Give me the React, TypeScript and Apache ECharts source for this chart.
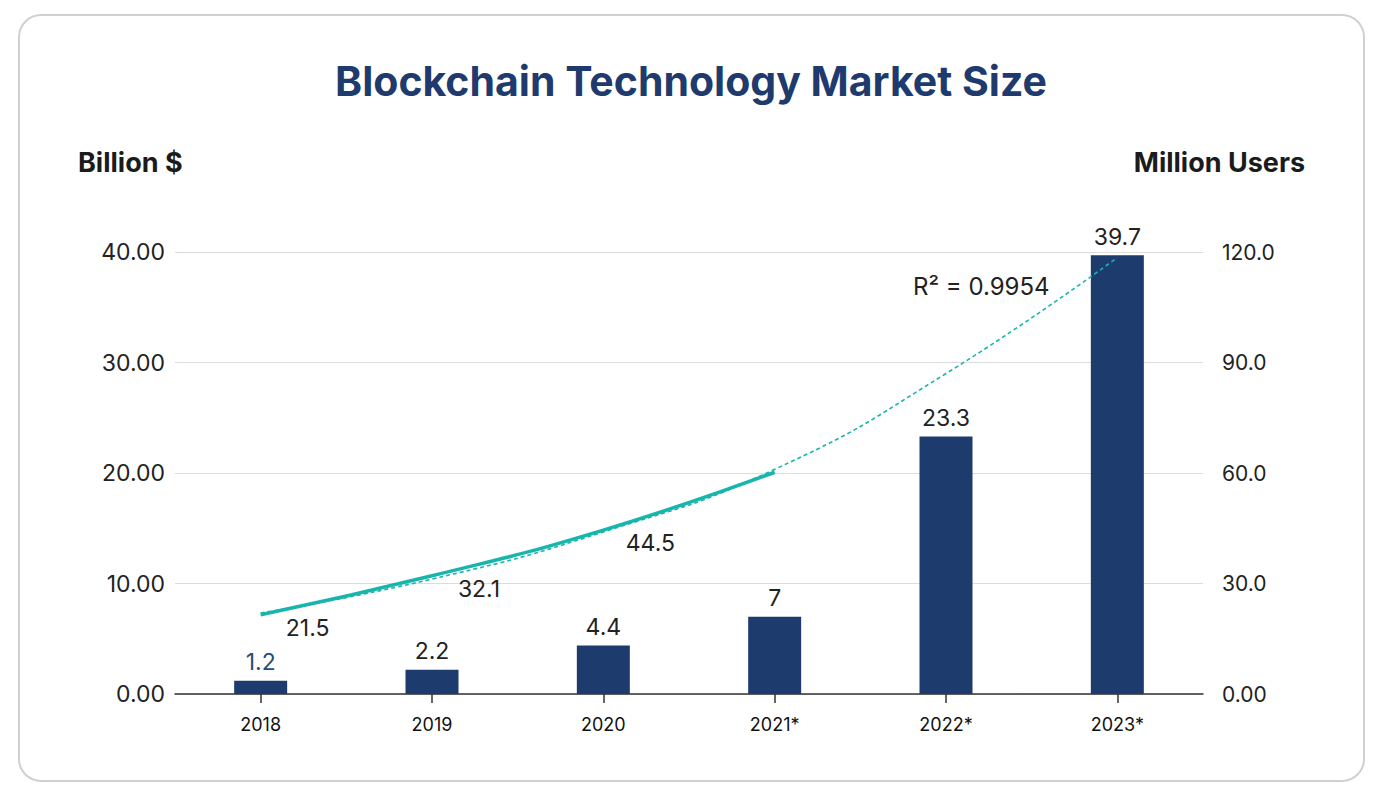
import React, { useEffect, useRef } from "react";
import * as echarts from "echarts";

const categories = ["2018", "2019", "2020", "2021*", "2022*", "2023*"];
const marketSize = [1.2, 2.2, 4.4, 7, 23.3, 39.7];
const users = [21.5, 32.1, 44.5, 60.2];
const userLabels = [true, true, true, false];
const trend = [22.0, 31.2, 44.0, 61.0, 87.0, 118.5];
const leftTicks = [0, 10, 20, 30, 40];
const rightTicks = [0, 30, 60, 90, 120];

const FONT = "Inter, 'Noto Sans', sans-serif";
const NAVY = "#1e3b6e";
const TEAL = "#17b5ac";

export default function App() {
  const ref = useRef<HTMLDivElement>(null);
  useEffect(() => {
    if (!ref.current) return;
    const chart = echarts.init(ref.current, null, { renderer: "svg" });
    chart.setOption({
      animation: false,
      backgroundColor: "#fff",
      textStyle: { fontFamily: FONT },
      title: {
        text: "Blockchain Technology Market Size",
        left: 330,
        top: 55,
        textStyle: { fontFamily: FONT, fontSize: 41, fontWeight: 700, color: "#1f3b6d" },
      },
      graphic: [
        {
          type: "rect",
          shape: { x: 19, y: 15, width: 1345, height: 766, r: 22 },
          style: { fill: "none", stroke: "#d0d0d0", lineWidth: 2 },
          silent: true,
          z: -1,
        },
        {
          type: "text",
          left: 78,
          top: 149,
          style: { text: "Billion $", fontFamily: FONT, fontSize: 27, fontWeight: 700, fill: "#1b1b1b" },
        },
        {
          type: "text",
          right: 74,
          top: 149,
          style: { text: "Million Users", fontFamily: FONT, fontSize: 27, fontWeight: 700, fill: "#1b1b1b" },
        },
        {
          type: "text",
          left: 913,
          top: 274,
          style: { text: "R² = 0.9954", fontFamily: FONT, fontSize: 24, fill: "#222" },
        },
      ],
      grid: { left: 175, right: 176, top: 252, bottom: 104 },
      xAxis: {
        type: "category",
        data: categories,
        boundaryGap: true,
        axisLine: { lineStyle: { color: "#333", width: 1.5 } },
        axisTick: { show: true, alignWithLabel: true, length: 9, lineStyle: { color: "#333", width: 1.5 } },
        axisLabel: { color: "#111", fontSize: 18, margin: 21, fontFamily: FONT },
      },
      yAxis: [
        {
          type: "value",
          min: leftTicks[0],
          max: leftTicks[leftTicks.length - 1],
          interval: 10,
          axisLine: { show: false },
          axisTick: { show: false },
          splitLine: { lineStyle: { color: "#dcdcdc", width: 1 } },
          axisLabel: { color: "#222", fontSize: 23, margin: 10, formatter: (v: number) => v.toFixed(2) },
        },
        {
          type: "value",
          min: rightTicks[0],
          max: rightTicks[rightTicks.length - 1],
          interval: 30,
          position: "right",
          axisLine: { show: false },
          axisTick: { show: false },
          splitLine: { show: false },
          axisLabel: {
            color: "#222",
            fontSize: 21,
            margin: 19,
            formatter: (v: number) => (v === 0 ? "0.00" : v.toFixed(1)),
          },
        },
      ],
      series: [
        {
          type: "bar",
          data: marketSize.map((v, i) => ({
            value: v,
            label: { color: i === 0 ? "#2a4a80" : "#222" },
          })),
          barWidth: 53,
          itemStyle: { color: NAVY },
          label: { show: true, position: "top", distance: 7, fontSize: 23, fontFamily: FONT, color: "#222" },
          z: 2,
        },
        {
          type: "line",
          yAxisIndex: 1,
          data: trend,
          smooth: true,
          symbol: "none",
          lineStyle: { color: TEAL, width: 1.6, type: [4, 3] },
          z: 3,
        },
        {
          type: "line",
          yAxisIndex: 1,
          data: users.map((v, i) => ({
            value: v,
            label: { show: userLabels[i] },
          })),
          smooth: true,
          symbol: "circle",
          symbolSize: 2,
          showSymbol: true,
          itemStyle: { color: "rgba(0,0,0,0)" },
          lineStyle: { color: TEAL, width: 3.5 },
          label: {
            show: true,
            position: [48, 14],
            align: "center",
            verticalAlign: "middle",
            fontSize: 23,
            fontFamily: FONT,
            color: "#222",
          },
          labelLayout: { hideOverlap: false },
          z: 4,
        },
      ],
    });
    return () => chart.dispose();
  }, []);
  return <div ref={ref} style={{ position: "fixed", left: 0, top: 0, width: 1379, height: 798 }} />;
}
